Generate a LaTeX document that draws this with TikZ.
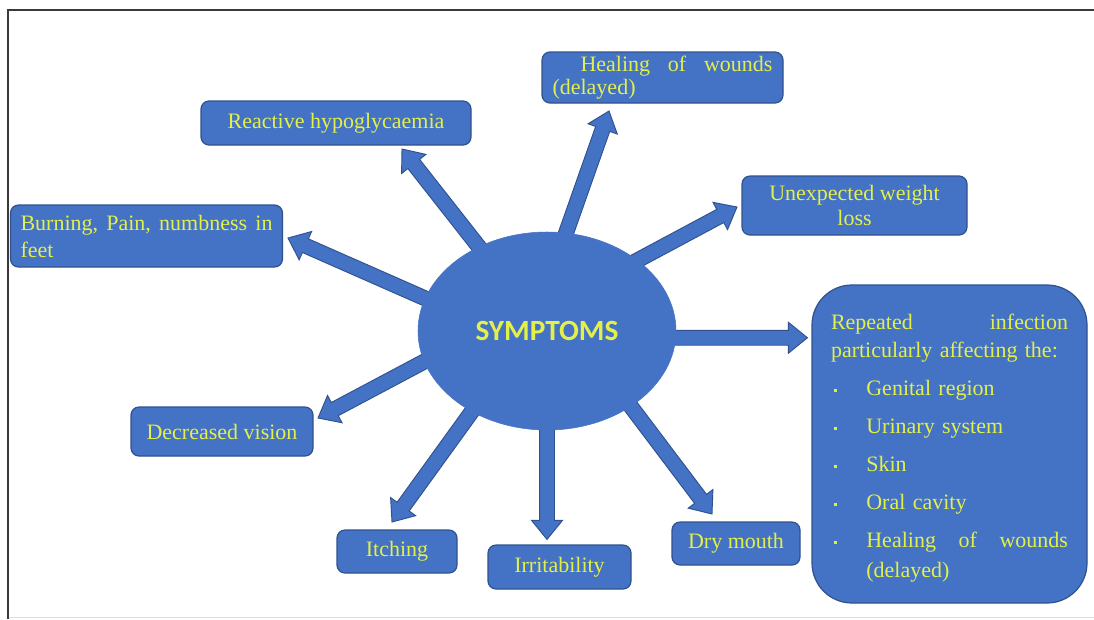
\documentclass[tikz,border=0pt]{standalone}
\usepackage{fontspec}
\setmainfont{Liberation Serif}
\newfontfamily\calib{Carlito}
\usetikzlibrary{calc,backgrounds,shapes.geometric}
\definecolor{bfill}{HTML}{4472C4}
\definecolor{bdraw}{HTML}{2F528F}
\definecolor{btext}{HTML}{E4F04A}
\definecolor{frm}{HTML}{3A3A3A}
\tikzset{
  box/.style={draw=bdraw, fill=bfill, line width=0.9pt, rounded corners=6pt,
    text=btext, inner sep=0pt, align=center,
    font=\fontsize{16.5}{20}\selectfont},
  bigbox/.style={box, rounded corners=30pt},
  blockarr/.style={draw=bdraw, fill=bfill, line width=0.7pt, line join=miter},
}
\newcommand\shw{5.6pt}
\newcommand\hdw{11.6pt}
\newcommand\hdl{14.25pt}
% #1 start, #2 tip
\newcommand\blockarrow[2]{%
  \coordinate (ba-a) at ($(#1)!-6pt!(#2)$);
  \coordinate (ba-h) at ($(#2)!\hdl!(#1)$);
  \filldraw[blockarr] ($(ba-a)!\shw!90:(#2)$) -- ($(ba-h)!\shw!-90:(ba-a)$)
    -- ($(ba-h)!\hdw!-90:(ba-a)$) -- (#2) -- ($(ba-h)!\hdw!90:(ba-a)$)
    -- ($(ba-h)!\shw!90:(ba-a)$) -- ($(ba-a)!\shw!-90:(#2)$) -- cycle;
}
\newcommand\bul{\makebox[26.5pt][l]{\hspace{2pt}\raisebox{3pt}{\rule{2.2pt}{2.2pt}}}}
\begin{document}
\begin{tikzpicture}[x=0.75pt, y=-0.75pt]
\useasboundingbox (0,0) rectangle (1094,619);
\begin{scope}[on background layer]
  \fill[white] (0,0) rectangle (1094,619);
\end{scope}
\draw[gray!25, line width=0.8pt] (9,617.5) -- (1094,617.5);
\draw[frm, line width=1.6pt] (8,619) -- (8,10) -- (1094,10);

% central ellipse
\node[ellipse, fill=bfill, draw=bfill, minimum width=193.5pt, minimum height=148.5pt,
  inner sep=0pt, text=btext, font=\calib\bfseries\fontsize{22}{24}\selectfont]
  (sym) at (547,331) {\raisebox{-1.5pt}{SYMPTOMS}};

% boxes
\node[box, minimum width=180.75pt, minimum height=38.25pt, align=left,
  text width=165pt, font=\fontsize{16.5}{17.25}\selectfont]
  (heal) at (662.5,77.5) {\hspace*{21pt}\makebox[144pt]{Healing\hfill of\hfill wounds}\\(delayed)};
\node[box, minimum width=202.5pt, minimum height=33pt] (rhypo) at (336,123) {Reactive hypoglycaemia};
\node[box, minimum width=168.75pt, minimum height=44.25pt,
  font=\fontsize{16.5}{18.75}\selectfont] (unexp) at (854.5,205.5) {Unexpected weight\\loss};
\node[box, minimum width=204pt, minimum height=46.5pt, align=left, text width=189pt,
  font=\fontsize{16.5}{20.25}\selectfont]
  (burn) at (146.5,236) {\makebox[189pt]{Burning,\hfill Pain,\hfill numbness\hfill in}\\feet};
\node[bigbox, minimum width=206.25pt, minimum height=238.5pt, align=left, text width=177.75pt,
  font=\fontsize{16.5}{21}\selectfont] (rep) at (949.5,444)
  {\rule{0pt}{18pt}\makebox[177.75pt]{Repeated\hfill infection}\\
   particularly affecting the:\\[7.5pt]
   \bul Genital region\\[7.5pt]
   \bul Urinary system\\[7.5pt]
   \bul Skin\\[7.5pt]
   \bul Oral cavity\\[7.5pt]
   \bul\makebox[151.25pt]{Healing\hfill of\hfill wounds}\\[1.5pt]
   \hspace*{26.5pt}(delayed)};
\node[box, minimum width=136.5pt, minimum height=36.75pt] (dec) at (222,431.5) {Decreased vision};
\node[box, minimum width=90pt, minimum height=32.25pt] (itch) at (397,551.5) {Itching};
\node[box, minimum width=107.25pt, minimum height=33pt] (irr) at (559.5,567) {Irritability};
\node[box, minimum width=96pt, minimum height=32.25pt] (dry) at (736,543.5) {Dry mouth};

% arrow tips
\coordinate (tHeal) at (609,111);
\coordinate (tUnexp) at (737,207);
\coordinate (tRhypo) at (402,149);
\coordinate (tBurn) at (288,238);
\coordinate (tRep) at ($(sym.-3 -| rep.west)+(-4,0)$);
\coordinate (tDec) at (318,418);
\coordinate (tItch) at (392,522);
\coordinate (tIrr) at ($(sym.south |- irr.north)+(0,-5)$);
\coordinate (tDry) at (712,514);

\begin{scope}[on background layer]
  \blockarrow{sym.79}{tHeal}
  \blockarrow{sym.38}{tUnexp}
  \blockarrow{sym.129}{tRhypo}
  \blockarrow{sym.165}{tBurn}
  \blockarrow{sym.-3}{tRep}
  \blockarrow{sym.194}{tDec}
  \blockarrow{sym.227}{tItch}
  \blockarrow{sym.south}{tIrr}
  \blockarrow{sym.318}{tDry}
\end{scope}
\end{tikzpicture}
\end{document}
